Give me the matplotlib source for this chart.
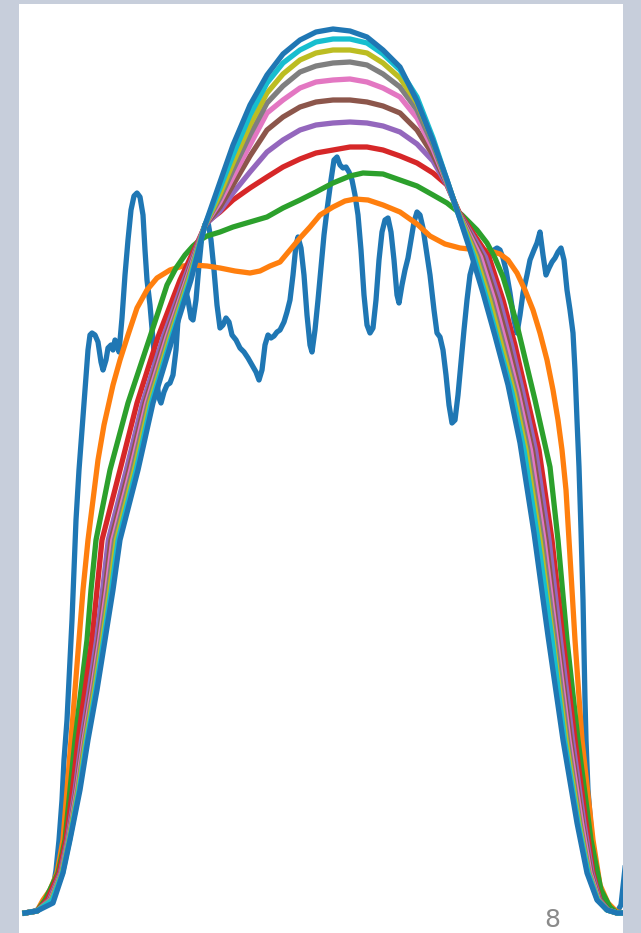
import matplotlib.pyplot as plt

# raw noisy profile
signal_x = [0, 10, 20, 27, 31, 34, 37, 39, 42, 45, 47, 49, 51, 54, 57, 60, 63, 65, 67, 70,
            73, 76, 78, 81, 83, 86, 88, 90, 92, 94, 97, 100, 103, 106, 109, 112, 115, 118, 120, 122,
            125, 128, 131, 134, 136, 139, 142, 145, 148, 151, 154, 157, 160, 163, 166, 168, 171, 174, 177, 180,
            183, 186, 189, 192, 195, 198, 201, 204, 207, 211, 215, 219, 223, 227, 231, 234, 237, 240, 243, 246,
            249, 252, 255, 259, 262, 265, 268, 271, 273, 276, 279, 282, 285, 287, 290, 293, 296, 299, 302, 306,
            309, 312, 315, 318, 321, 324, 327, 330, 333, 336, 339, 342, 345, 348, 351, 354, 357, 360, 363, 366,
            369, 372, 374, 377, 380, 383, 386, 389, 392, 395, 398, 401, 405, 409, 412, 415, 418, 421, 424, 427,
            430, 433, 436, 439, 442, 445, 449, 454, 459, 464, 469, 472, 475, 478, 481, 485, 489, 492, 495, 498,
            502, 505, 509, 512, 515, 518, 521, 524, 527, 530, 533, 536, 539, 542, 545, 548, 550, 552, 554, 556,
            557, 558, 559, 560, 561, 563, 567, 572, 578, 585, 592, 596, 600]
signal_y = [0, 2, 7, 18, 43, 73, 113, 153, 193, 253, 293, 343, 393, 443, 483, 523, 563, 578, 580, 578,
            571, 551, 543, 553, 565, 568, 563, 573, 568, 561, 595, 638, 673, 703, 717, 720, 716, 698, 663, 633,
            608, 573, 538, 515, 510, 521, 528, 530, 538, 563, 608, 623, 626, 613, 595, 593, 613, 648, 678, 688,
            691, 673, 643, 608, 585, 588, 595, 591, 578, 573, 565, 561, 555, 548, 541, 533, 543, 568, 578, 575,
            577, 581, 583, 591, 601, 613, 638, 668, 676, 665, 638, 598, 568, 561, 583, 613, 645, 678, 703, 733,
            753, 756, 748, 745, 746, 741, 733, 718, 698, 663, 618, 588, 580, 585, 613, 653, 681, 693, 695, 681,
            653, 618, 610, 628, 643, 655, 673, 691, 701, 698, 685, 665, 638, 603, 580, 576, 563, 538, 508, 490,
            493, 518, 551, 583, 613, 638, 653, 658, 655, 658, 663, 665, 663, 655, 643, 620, 593, 580, 598, 620,
            638, 653, 663, 670, 681, 658, 638, 645, 651, 655, 661, 665, 653, 623, 603, 580, 543, 493, 446, 383,
            346, 313, 263, 213, 173, 123, 73, 33, 13, 5, 1, 8, 45]

# smoothing passes 1..10
pass1_x = [0, 12, 18, 25, 32, 38, 42, 46, 50, 54, 58, 63, 68, 73, 79, 88, 95, 103, 112, 122,
           132, 145, 158, 168, 182, 195, 210, 225, 235, 245, 255, 265, 275, 285, 295, 308, 320, 330, 343, 358,
           375, 392, 405, 420, 435, 453, 465, 475, 483, 492, 500, 508, 515, 522, 528, 533, 537, 541, 544, 550,
           557, 568, 575, 583, 592, 600]
pass1_y = [0, 2, 13, 23, 40, 73, 123, 173, 223, 273, 323, 373, 413, 453, 488, 528, 553, 578, 605, 623,
           635, 643, 647, 648, 647, 645, 642, 640, 642, 647, 651, 663, 675, 686, 698, 706, 712, 714, 713, 708,
           701, 689, 677, 669, 665, 663, 662, 659, 653, 640, 623, 603, 580, 553, 523, 493, 463, 423, 373, 273,
           173, 73, 28, 10, 1, 0]

pass2_x = [0, 12, 20, 33, 40, 45, 50, 56, 62, 66, 71, 85, 103, 125, 142, 151, 160, 168, 175, 182,
           195, 208, 225, 242, 258, 275, 291, 308, 325, 338, 358, 375, 392, 408, 422, 437, 452, 462, 470, 478,
           485, 492, 498, 510, 525, 533, 542, 553, 566, 576, 585, 592, 600]
pass2_y = [0, 2, 13, 40, 73, 123, 173, 223, 273, 323, 373, 443, 510, 576, 628, 645, 658, 667, 673, 677,
           681, 686, 691, 696, 705, 713, 721, 730, 737, 740, 739, 733, 727, 718, 710, 698, 683, 670, 655, 636,
           613, 588, 563, 513, 446, 373, 273, 173, 73, 23, 6, 0, 0]

pass3_x = [0, 12, 22, 34, 41, 47.5, 53, 60, 67, 72, 77, 95, 112, 133, 155, 182,
           195, 208, 225, 242, 258, 275, 291, 308, 325, 342, 358, 375, 392, 408, 422,
           434, 464, 478, 490, 501, 514, 527, 538, 550, 561, 568, 575, 583, 592, 600]
pass3_y = [0, 2, 13, 40, 73, 123, 173, 223, 273, 323, 373, 443, 510, 576, 633, 691,
           701, 713, 725, 736, 746, 754, 760, 763, 766, 766, 763, 757, 750, 740, 728,
           701, 656, 613, 568, 520, 463, 373, 273, 173, 90, 40, 13, 3, 0, 0]

pass4_x = [0, 12, 24.1, 35.4, 42.4, 50.1, 56.5, 64.2, 71.6, 77.6, 83.3, 101.3, 117.6, 138.3, 158.9, 180,
           195, 208, 225, 242, 258, 275, 291, 308, 325, 342, 358, 375, 392, 408, 422,
           433.5, 460.5, 474.5, 486.5, 498, 510.5, 524, 535.5, 547.5, 559, 567, 574.5, 583, 592, 600]
pass4_y = [0, 2, 13, 40, 73, 123, 173, 223, 273, 323, 373, 443, 510, 576, 633, 688,
           702, 720, 741, 761, 773, 783, 788, 790, 791, 790, 787, 781, 769, 752, 728,
           701, 656, 613, 568, 520, 463, 373, 273, 173, 90, 40, 13, 3, 0, 0]

pass5_x = [0, 12, 25, 36, 43, 51.2, 58, 66, 73.5, 80, 86, 104, 120, 140.5, 160.5, 180,
           195, 208, 225, 242, 258, 275, 291, 308, 325, 342, 358, 375, 392, 408, 422,
           433.5, 457.5, 471.5, 483.5, 495, 507.5, 521, 533, 545.5, 557.5, 566, 574, 582.5, 592, 600]
pass5_y = [0, 2, 13, 40, 73, 123, 173, 223, 273, 323, 373, 443, 510, 576, 633, 688,
           706, 728, 757, 783, 796, 806, 811, 813, 813, 811, 807, 800, 783, 758, 729,
           701, 656, 613, 568, 520, 463, 373, 273, 173, 90, 40, 13, 3, 0, 0]

pass6_x = [0, 12, 25.6, 36.4, 43.4, 52, 59, 67.2, 74.8, 81.6, 87.8, 105.8, 121.6, 142, 161.6, 180,
           195, 208, 225, 242, 258, 275, 291, 308, 325, 342, 358, 375, 392, 408, 422,
           433, 455.5, 469, 481, 493, 505.5, 519, 531.5, 544, 556.5, 565, 573.5, 582.5, 592, 600]
pass6_y = [0, 2, 13, 40, 73, 123, 173, 223, 273, 323, 373, 443, 510, 576, 633, 688,
           711, 736, 768, 800, 813, 825, 831, 833, 834, 831, 825, 816, 795, 764, 730,
           701, 656, 613, 568, 520, 463, 373, 273, 173, 90, 40, 13, 3, 0, 0]

pass7_x = [0, 12, 26.2, 36.8, 43.8, 52.8, 60, 68.4, 76.1, 83.2, 89.6, 107.6, 123.2, 143.5, 162.7, 180,
           195, 208, 225, 242, 258, 275, 291, 308, 325, 342, 358, 375, 392, 408, 422,
           433, 453, 466.5, 478.5, 491, 503, 517, 530, 542.5, 555, 564, 573, 582.5, 592, 600]
pass7_y = [0, 2, 13, 40, 73, 123, 173, 223, 273, 323, 373, 443, 510, 576, 633, 688,
           715, 743, 778, 810, 827, 841, 847, 850, 851, 848, 839, 826, 803, 768, 731,
           701, 656, 613, 568, 520, 463, 373, 273, 173, 90, 40, 13, 3, 0, 0]

pass8_x = [0, 12, 26.8, 37.2, 44.2, 53.5, 61, 69.6, 77.4, 84.8, 91.4, 109.4, 124.8, 145, 163.8, 180,
           195, 208, 225, 242, 258, 275, 291, 308, 325, 342, 358, 375, 392, 408, 422,
           433, 451, 464.5, 476.5, 489, 501, 515, 528, 541, 554, 563.5, 573, 582, 592, 600]
pass8_y = [0, 2, 13, 40, 73, 123, 173, 223, 273, 323, 373, 443, 510, 576, 633, 688,
           719, 750, 788, 820, 839, 853, 860, 863, 863, 860, 850, 835, 810, 772, 732,
           701, 656, 613, 568, 520, 463, 373, 273, 173, 90, 40, 13, 3, 0, 0]

pass9_x = [0, 12, 27.4, 37.6, 44.6, 54.2, 62, 70.8, 78.7, 86.4, 93.2, 111.2, 126.4, 146.5, 164.9, 180,
           195, 208, 225, 242, 258, 275, 291, 308, 325, 342, 358, 375, 392, 408, 422,
           432.5, 449, 462, 474, 487, 499, 513, 527, 539.5, 553, 563, 572.5, 582, 592, 600]
pass9_y = [0, 2, 13, 40, 73, 123, 173, 223, 273, 323, 373, 443, 510, 576, 633, 688,
           725, 758, 798, 830, 850, 863, 871, 874, 874, 870, 859, 843, 816, 775, 733,
           701, 656, 613, 568, 520, 463, 373, 273, 173, 90, 40, 13, 3, 0, 0]

pass10_x = [0, 12, 28, 38, 45, 55, 63, 72, 80, 88, 95, 113, 128, 148, 166, 180,
            195, 208, 225, 242, 258, 275, 291, 308, 325, 342, 358, 375, 392, 408, 422,
            432, 445, 458, 470, 483, 495, 509, 523, 538, 552, 562, 572, 582, 592, 600]
pass10_y = [0, 2, 10, 40, 73, 123, 173, 223, 273, 323, 373, 443, 510, 576, 633, 688,
            731, 768, 808, 838, 859, 873, 881, 884, 882, 876, 863, 846, 812, 772, 733,
            703, 663, 620, 577, 528, 470, 380, 277, 173, 90, 40, 13, 3, 0, 0]

curves = [
    (signal_x, signal_y),
    (pass1_x, pass1_y), (pass2_x, pass2_y), (pass3_x, pass3_y), (pass4_x, pass4_y),
    (pass5_x, pass5_y), (pass6_x, pass6_y), (pass7_x, pass7_y), (pass8_x, pass8_y),
    (pass9_x, pass9_y), (pass10_x, pass10_y),
]

fig = plt.figure(figsize=(6.41, 9.33), dpi=100, facecolor="#c7cedb")
ax = fig.add_axes([19 / 641, 0, 604 / 641, 929 / 933])
ax.set_facecolor("white")

for xs, ys in curves:
    ax.plot(xs, ys, linewidth=3.8)

ax.set_xlim(-6, 598)
ax.set_ylim(-20, 909)
ax.set_xticks([])
ax.set_yticks([])
for spine in ax.spines.values():
    spine.set_visible(False)

# page number
fig.text(552 / 641, 6 / 933, "8", ha="center", va="baseline", fontsize=18, color="#8a8a8a")

fig.savefig("out.png", dpi=100, facecolor=fig.get_facecolor())
